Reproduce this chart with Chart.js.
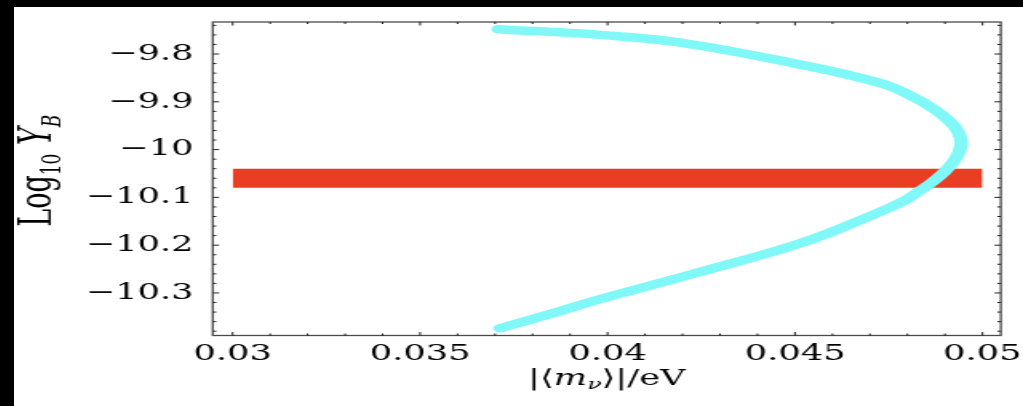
<!DOCTYPE html>
<html>
<head>
<meta charset="utf-8">
<script src="https://cdn.jsdelivr.net/npm/chart.js@4.4.0/dist/chart.umd.min.js"></script>
<style>
  html, body { margin: 0; padding: 0; background: #fff; }
  body { width: 1023px; height: 406px; overflow: hidden; position: relative; }
  .bar { position: absolute; background: #000; }
  #wrap { position: absolute; left: 14px; top: 7px; width: 1009px; height: 399px; background: #fff; }
  #chart { display: block; width: 1009px !important; height: 399px !important; }
</style>
</head>
<body>
<div class="bar" style="left:0;top:0;width:1023px;height:7px"></div>
<div class="bar" style="left:0;top:0;width:14px;height:406px"></div>
<div id="wrap"><canvas id="chart" width="631" height="399" style="width:1009px;height:399px"></canvas></div>
<script>
// axis ticks
const massTicks = [0.03, 0.035, 0.04, 0.045, 0.05];
const massLabels = ['0.03', '0.035', '0.04', '0.045', '0.05'];
const logTicks = [-10.3, -10.2, -10.1, -10, -9.9, -9.8];
const logLabels = ['\u221210.3', '\u221210.2', '\u221210.1', '\u221210', '\u22129.9', '\u22129.8'];

// cyan curve (top end -> right turn -> bottom end)
const curveMass = [0.03708, 0.03980, 0.04194, 0.04495, 0.04728, 0.04816, 0.04874, 0.04914, 0.04935,
  0.04943, 0.04938, 0.04922, 0.04898, 0.04866, 0.04831, 0.04794, 0.04701, 0.04514, 0.04247,
  0.03980, 0.03839, 0.03713];
const curveLogY = [-9.748, -9.760, -9.776, -9.819, -9.861, -9.890, -9.917, -9.942, -9.963,
  -9.984, -10.005, -10.026, -10.047, -10.068, -10.087, -10.106, -10.139, -10.196, -10.256,
  -10.313, -10.346, -10.374];

// red band
const bandMass = [0.03, 0.05];
const bandHigh = [-10.04, -10.04];
const bandLow = [-10.08, -10.08];

const serif = 'DejaVu Serif';

function drawRuns(ctx, runs, cx, y) {
  let w = 0;
  runs.forEach(r => { ctx.font = r.font; w += ctx.measureText(r.text).width; });
  let x = cx - w / 2;
  runs.forEach(r => {
    ctx.font = r.font;
    ctx.fillText(r.text, x, y + (r.dy || 0));
    x += ctx.measureText(r.text).width;
  });
}

const frame = {
  id: 'frame',
  afterDatasetsDraw(chart) {
    const { ctx, chartArea: a, scales: { x, y } } = chart;
    ctx.save();
    ctx.strokeStyle = '#4a4a4a';
    ctx.lineWidth = 1.3;
    ctx.strokeRect(a.left, a.top, a.right - a.left, a.bottom - a.top);
    ctx.strokeStyle = '#222';
    ctx.lineWidth = 1;
    ctx.beginPath();
    for (let i = 30; i <= 50; i++) {
      const px = x.getPixelForValue(i / 1000);
      const len = i % 5 === 0 ? 3.5 : 2;
      ctx.moveTo(px, a.bottom); ctx.lineTo(px, a.bottom - len);
      ctx.moveTo(px, a.top); ctx.lineTo(px, a.top + len);
    }
    for (let i = -519; i <= -487; i++) {
      const py = y.getPixelForValue(i * 0.02);
      const len = i % 5 === 0 ? 4 : 2.2;
      ctx.moveTo(a.left, py); ctx.lineTo(a.left + len, py);
      ctx.moveTo(a.right, py); ctx.lineTo(a.right - len, py);
    }
    ctx.stroke();
    ctx.restore();
  }
};

const titles = {
  id: 'titles',
  afterDraw(chart) {
    const { ctx, chartArea: a } = chart;
    ctx.save();
    ctx.fillStyle = '#000';
    ctx.textBaseline = 'alphabetic';
    drawRuns(ctx, [
      { text: '|\u27E8', font: `22px ${serif}` },
      { text: 'm', font: `italic 22px ${serif}` },
      { text: '\u03BD', font: `italic 15px ${serif}`, dy: 4 },
      { text: '\u27E9|/eV', font: `22px ${serif}` }
    ], (a.left + a.right) / 2, 378);
    ctx.translate(23, (a.top + a.bottom) / 2 - 8);
    ctx.rotate(-Math.PI / 2);
    drawRuns(ctx, [
      { text: 'Log', font: `27px ${serif}` },
      { text: '10', font: `17px ${serif}`, dy: 6 },
      { text: ' ', font: `27px ${serif}` },
      { text: 'Y', font: `italic 27px ${serif}` },
      { text: 'B', font: `italic 17px ${serif}`, dy: 6 }
    ], 0, 0);
    ctx.restore();
  }
};

new Chart(document.getElementById('chart'), {
  type: 'line',
  data: {
    datasets: [
      {
        data: curveMass.map((m, i) => ({ x: m, y: curveLogY[i] })),
        borderColor: 'rgb(128, 248, 248)',
        borderWidth: 8.5,
        borderCapStyle: 'round',
        borderJoinStyle: 'round',
        tension: 0.4,
        pointRadius: 0,
        fill: false
      },
      {
        data: bandMass.map((m, i) => ({ x: m, y: bandHigh[i] })),
        borderWidth: 0,
        pointRadius: 0,
        backgroundColor: '#e93d24',
        fill: '+1'
      },
      {
        data: bandMass.map((m, i) => ({ x: m, y: bandLow[i] })),
        borderWidth: 0,
        pointRadius: 0,
        fill: false
      }
    ]
  },
  options: {
    responsive: false,
    devicePixelRatio: 1,
    animation: false,
    layout: { padding: { left: 0, top: 15, right: 13.9, bottom: 0 } },
    plugins: { legend: { display: false }, tooltip: { enabled: false } },
    scales: {
      x: {
        type: 'linear',
        min: 0.02947,
        max: 0.05049,
        grid: { display: false, drawTicks: false },
        border: { display: false },
        afterBuildTicks: s => { s.ticks = massTicks.map(v => ({ value: v })); },
        afterFit: s => { s.height = 70.5; s.paddingLeft = 0; s.paddingRight = 0; },
        ticks: {
          padding: 6,
          color: '#000',
          maxRotation: 0,
          autoSkip: false,
          font: { family: serif, size: 22 },
          callback: v => massLabels[massTicks.indexOf(v)]
        }
      },
      y: {
        min: -10.389,
        max: -9.733,
        grid: { display: false, drawTicks: false },
        border: { display: false },
        afterBuildTicks: s => { s.ticks = logTicks.map(v => ({ value: v })); },
        afterFit: s => { s.width = 124.3; s.paddingTop = 0; s.paddingBottom = 0; },
        ticks: {
          padding: 12,
          color: '#000',
          autoSkip: false,
          font: { family: serif, size: 22 },
          callback: v => logLabels[logTicks.indexOf(v)]
        }
      }
    }
  },
  plugins: [frame, titles]
});
</script>
</body>
</html>
